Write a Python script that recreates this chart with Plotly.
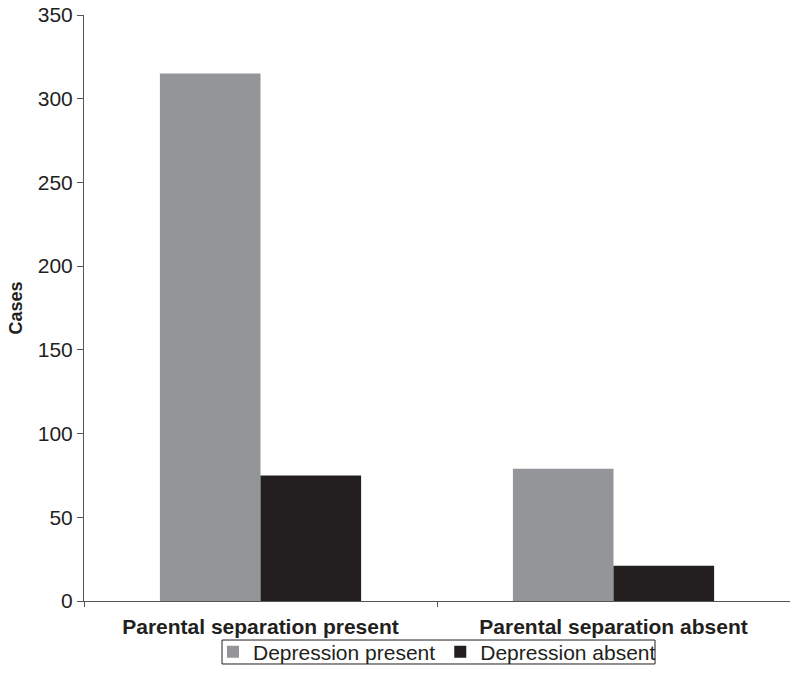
import plotly.graph_objects as go

categories = ["Parental separation present", "Parental separation absent"]
depression_present = [315, 79]
depression_absent = [75, 21]
series_names = ["Depression present", "Depression absent"]

FONT = "Liberation Sans, Arial, sans-serif"

fig = go.Figure()
fig.add_trace(go.Bar(x=categories, y=depression_present, name=series_names[0],
                     marker=dict(color="#939598", line=dict(width=0))))
fig.add_trace(go.Bar(x=categories, y=depression_absent, name=series_names[1],
                     marker=dict(color="#231f20", line=dict(width=0))))

fig.update_layout(
    width=790, height=682,
    margin=dict(l=84, r=0, t=15, b=81),
    paper_bgcolor="white", plot_bgcolor="white",
    barmode="group", bargap=0.43, bargroupgap=0,
    font=dict(family=FONT, color="#231f20", size=21),
    showlegend=True,
    legend=dict(orientation="h", x=0.5, xanchor="center", y=-0.087, yanchor="middle",
                borderwidth=0, font=dict(size=21),
                itemwidth=30, tracegroupgap=0, bgcolor="rgba(0,0,0,0)"),
    shapes=[dict(type="rect", xref="paper", yref="paper",
                 x0=0.1955, x1=0.8088, y0=-0.1075, y1=-0.0666,
                 line=dict(color="#231f20", width=1), fillcolor="rgba(0,0,0,0)")],
)
fig.update_xaxes(
    showline=True, linecolor="#555555", linewidth=1,
    ticks="outside", ticklen=5, tickcolor="#555555", tickson="boundaries",
    tickfont=dict(size=21, family=FONT), ticklabelstandoff=7,
    showgrid=False,
)
fig.update_xaxes(ticktext=["<b>" + c + "</b>" for c in categories], tickvals=categories)
fig.update_yaxes(
    range=[0, 350], dtick=50, showline=True, linecolor="#555555", linewidth=1,
    ticks="outside", ticklen=6, tickcolor="#555555", showgrid=False, zeroline=False,
    tickfont=dict(size=21),
    title=dict(text="<b>Cases</b>", font=dict(size=18), standoff=10),
)
fig.write_html("out.html", config={"displayModeBar": False},
               post_script="document.body.style.margin='0';document.body.style.overflow='hidden';")
